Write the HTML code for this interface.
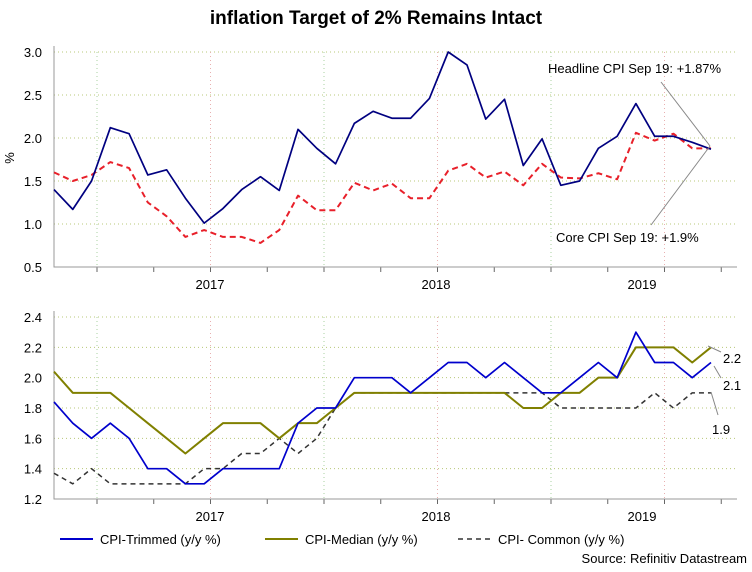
<!DOCTYPE html>
<html><head><meta charset="utf-8"><style>
body{margin:0;background:#fff;}
svg{display:block;font-family:"Liberation Sans",Arial,sans-serif;}
</style></head><body>
<svg id="c" width="752" height="572">
<text x="376" y="24" text-anchor="middle" font-size="19" font-weight="bold">inflation Target of 2% Remains Intact</text>
<g id="toppanel"></g>
<g id="botpanel"></g>
<text x="14" y="158" font-size="13" transform="rotate(-90 14 158)" text-anchor="middle">%</text>
<text x="548" y="73" font-size="13">Headline CPI Sep 19: +1.87%</text>
<line x1="661" y1="82" x2="710" y2="146" stroke="#888"/>
<text x="556" y="242" font-size="13">Core CPI Sep 19: +1.9%</text>
<line x1="651" y1="225" x2="710" y2="146" stroke="#888"/>
<text x="723" y="363" font-size="13">2.2</text>
<line x1="708" y1="346" x2="721" y2="352" stroke="#888"/>
<text x="723" y="390" font-size="13">2.1</text>
<line x1="714" y1="366" x2="721" y2="378" stroke="#888"/>
<text x="712" y="434" font-size="13">1.9</text>
<line x1="711" y1="392" x2="718" y2="415" stroke="#888"/>
<g>
<line x1="60" y1="539" x2="93" y2="539" stroke="#0000cc" stroke-width="2"/>
<text x="100" y="544" font-size="13">CPI-Trimmed (y/y %)</text>
<line x1="265" y1="539" x2="298" y2="539" stroke="#808000" stroke-width="2"/>
<text x="305" y="544" font-size="13">CPI-Median (y/y %)</text>
<line x1="458" y1="539" x2="490" y2="539" stroke="#333" stroke-width="1.5" stroke-dasharray="5,4"/>
<text x="498" y="544" font-size="13">CPI- Common (y/y %)</text>
</g>
<text x="747" y="563" font-size="13" text-anchor="end">Source: Refinitiv Datastream</text>
</svg>
<script>
const headline=[1.4,1.17,1.5,2.12,2.05,1.57,1.63,1.3,1.01,1.18,1.4,1.55,1.39,2.1,1.88,1.7,2.17,2.31,2.23,2.23,2.46,3.0,2.85,2.22,2.45,1.68,1.99,1.45,1.5,1.88,2.02,2.4,2.02,2.02,1.95,1.87];
const core=[1.6,1.5,1.57,1.72,1.65,1.25,1.09,0.85,0.93,0.85,0.85,0.78,0.93,1.33,1.16,1.16,1.48,1.39,1.47,1.3,1.3,1.62,1.7,1.54,1.61,1.45,1.7,1.54,1.53,1.59,1.52,2.06,1.97,2.05,1.88,1.88];
const trimmed=[1.84,1.7,1.6,1.7,1.6,1.4,1.4,1.3,1.3,1.4,1.4,1.4,1.4,1.7,1.8,1.8,2.0,2.0,2.0,1.9,2.0,2.1,2.1,2.0,2.1,2.0,1.9,1.9,2.0,2.1,2.0,2.3,2.1,2.1,2.0,2.1];
const median=[2.04,1.9,1.9,1.9,1.8,1.7,1.6,1.5,1.6,1.7,1.7,1.7,1.6,1.7,1.7,1.8,1.9,1.9,1.9,1.9,1.9,1.9,1.9,1.9,1.9,1.8,1.8,1.9,1.9,2.0,2.0,2.2,2.2,2.2,2.1,2.2];
const common=[1.37,1.3,1.4,1.3,1.3,1.3,1.3,1.3,1.4,1.4,1.5,1.5,1.6,1.5,1.6,1.8,1.9,1.9,1.9,1.9,1.9,1.9,1.9,1.9,1.9,1.9,1.9,1.8,1.8,1.8,1.8,1.8,1.9,1.8,1.9,1.9];
const topTicks=["0.5","1.0","1.5","2.0","2.5","3.0"];
const botTicks=["1.2","1.4","1.6","1.8","2.0","2.2","2.4"];
const years=["2017","2018","2019"];
const NS="http://www.w3.org/2000/svg";
function mk(p,t,a){const e=document.createElementNS(NS,t);for(const k in a)e.setAttribute(k,a[k]);p.appendChild(e);return e;}
const X=i=>54+i*(657/35);
function panel(g,vmin,vmax,ticks,yPix0,yPix1){
  const Y=v=>yPix0+(v-vmin)/(vmax-vmin)*(yPix1-yPix0);
  ticks.forEach(t=>{const y=Y(+t);
    if(+t!==vmin){const l=mk(g,'line',{x1:54,x2:737,y1:y,y2:y,stroke:'#b8c878','stroke-dasharray':'1,3'});
    
    }
    const tx=mk(g,'text',{x:42,y:y+5,'font-size':13,'text-anchor':'end'});tx.textContent=t;
    
    
  });
  const xb=yPix0;
  for(let k=0;k<6;k++){const x=97+k*113.5;
    const l=mk(g,'line',{x1:x,x2:x,y1:yPix1,y2:xb,stroke:k%2?'#e8b0b0':'#a8d0a0','stroke-dasharray':'1,3'});
    
    }
  for(let k=0;k<12;k++){const x=97+k*56.75;
    const t=mk(g,'line',{x1:x,x2:x,y1:xb,y2:xb+5,stroke:'#666'});
    
    }
  years.forEach((yr,k)=>{const t=mk(g,'text',{x:[210,436,642][k],y:xb+22,'font-size':13,'text-anchor':'middle'});t.textContent=yr;
    
    });
  const ax=mk(g,'path',{d:`M54 ${yPix1-6}V${xb}H737`,fill:'none',stroke:'#999'});
  
  
  return Y;
}
function line(g,data,Y,color,w,dash,name){
  const p=mk(g,'polyline',{points:data.map((v,i)=>X(i)+','+Y(v)).join(' '),fill:'none',stroke:color,'stroke-width':w,'stroke-dasharray':dash||'none','stroke-linejoin':'round'});
  
  
}
const gTop=document.getElementById('toppanel'),gBot=document.getElementById('botpanel');
const Yt=panel(gTop,0.5,3.0,topTicks,267,52);
line(gTop,core,Yt,'#e8202a',2,'6,4','core-cpi-line');
line(gTop,headline,Yt,'#000080',1.7,null,'headline-cpi-line');
const Yb=panel(gBot,1.2,2.4,botTicks,499,317);
line(gBot,common,Yb,'#333',1.5,'5,4','cpi-common-line');
line(gBot,median,Yb,'#808000',2,null,'cpi-median-line');
line(gBot,trimmed,Yb,'#0000cc',1.7,null,'cpi-trimmed-line');
</script>
</body></html>
